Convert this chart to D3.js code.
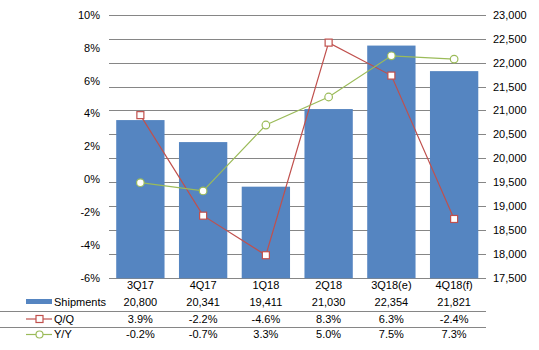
<!DOCTYPE html>
<html><head><meta charset="utf-8">
<script src="https://cdn.jsdelivr.net/npm/d3@7"></script>
<style>body{margin:0;background:#fff}svg{display:block;font-family:"Liberation Sans",Arial,sans-serif}</style>
</head><body><svg id="c" width="539" height="350"></svg>
<script>
const categories = ["3Q17","4Q17","1Q18","2Q18","3Q18(e)","4Q18(f)"];
const shipments = [20800,20341,19411,21030,22354,21821];
const qoq = [3.9,-2.2,-4.6,8.3,6.3,-2.4];
const yoy = [-0.2,-0.7,3.3,5.0,7.5,7.3];
const leftTicks = [10,8,6,4,2,0,-2,-4,-6];
const rightTicks = [23000,22500,22000,21500,21000,20500,20000,19500,19000,18500,18000,17500];
const shipLabels = ["20,800","20,341","19,411","21,030","22,354","21,821"];
const qoqLabels = ["3.9%","-2.2%","-4.6%","8.3%","6.3%","-2.4%"];
const yoyLabels = ["-0.2%","-0.7%","3.3%","5.0%","7.5%","7.3%"];

const blue="#5585C1", red="#C0504D", green="#9BBB59", grid="#868686";
const svg=d3.select("#c");
const x=d3.scaleBand().domain(categories).range([109,485.5]).paddingInner(0.23).paddingOuter(0.115);
const yL=d3.scaleLinear().domain([-6,10]).range([278.3,14.6]);
const yR=d3.scaleLinear().domain([17500,23000]).range([278.3,14.6]);
const fs=11;

// gridlines (right axis)
svg.append("g").selectAll("line").data(rightTicks).join("line")
  .attr("x1",109).attr("x2",486).attr("y1",d=>Math.round(yR(d))+0.5).attr("y2",d=>Math.round(yR(d))+0.5)
  .attr("stroke",grid).attr("stroke-width",1);

// left labels
svg.append("g").selectAll("text").data(leftTicks).join("text")
  .attr("x",100).attr("y",d=>yL(d)+4).attr("text-anchor","end").attr("font-size",fs).attr("fill","#000")
  .text(d=>d+"%");
// right labels
svg.append("g").selectAll("text").data(rightTicks).join("text")
  .attr("x",493).attr("y",d=>yR(d)+4).attr("text-anchor","start").attr("font-size",fs).attr("fill","#000")
  .text(d=>d3.format(",")(d));

// bars
svg.append("g").selectAll("rect").data(shipments).join("rect")
  .attr("x",(d,i)=>x(categories[i])).attr("width",x.bandwidth())
  .attr("y",d=>yR(d)).attr("height",d=>yR(17500)-yR(d)).attr("fill",blue);

const cx=i=>x(categories[i])+x.bandwidth()/2;
// Q/Q line
svg.append("path").datum(qoq).attr("fill","none").attr("stroke",red).attr("stroke-width",1.2)
  .attr("d",d3.line().x((d,i)=>cx(i)).y(d=>yL(d)));
svg.append("g").selectAll("rect").data(qoq).join("rect")
  .attr("x",(d,i)=>cx(i)-3.5).attr("y",d=>yL(d)-3.5).attr("width",7).attr("height",7)
  .attr("fill","#fff").attr("stroke",red).attr("stroke-width",1.2);
// Y/Y line
svg.append("path").datum(yoy).attr("fill","none").attr("stroke",green).attr("stroke-width",1.2)
  .attr("d",d3.line().x((d,i)=>cx(i)).y(d=>yL(d)));
svg.append("g").selectAll("circle").data(yoy).join("circle")
  .attr("cx",(d,i)=>cx(i)).attr("cy",d=>yL(d)).attr("r",3.8)
  .attr("fill","#fff").attr("stroke",green).attr("stroke-width",1.2);

// table
const t=svg.append("g").attr("font-size",fs).attr("fill","#000");
t.selectAll(".cat").data(categories).join("text").attr("class","cat")
  .attr("x",(d,i)=>cx(i)).attr("y",289).attr("text-anchor","middle").text(d=>d);
[[shipLabels,306],[qoqLabels,322.5],[yoyLabels,338]].forEach(([arr,yy])=>{
  t.append("g").selectAll("text").data(arr).join("text")
    .attr("x",(d,i)=>cx(i)).attr("y",yy).attr("text-anchor","middle").text(d=>d);
});
[311.5,327.5].forEach(yy=>svg.append("line").attr("x1",0).attr("x2",486).attr("y1",yy).attr("y2",yy)
  .attr("stroke",grid).attr("stroke-width",1));

// legend keys
svg.append("rect").attr("x",26).attr("y",299).attr("width",26).attr("height",5).attr("fill",blue);
t.append("text").attr("x",54).attr("y",306).text("Shipments");
svg.append("line").attr("x1",26).attr("x2",52).attr("y1",319).attr("y2",319).attr("stroke",red).attr("stroke-width",1.2);
svg.append("rect").attr("x",36).attr("y",315.5).attr("width",7).attr("height",7).attr("fill","#fff").attr("stroke",red).attr("stroke-width",1.2);
t.append("text").attr("x",54).attr("y",322.5).text("Q/Q");
svg.append("line").attr("x1",26).attr("x2",52).attr("y1",334.5).attr("y2",334.5).attr("stroke",green).attr("stroke-width",1.2);
svg.append("circle").attr("cx",39.5).attr("cy",334.5).attr("r",3.5).attr("fill","#fff").attr("stroke",green).attr("stroke-width",1.2);
t.append("text").attr("x",54).attr("y",338).text("Y/Y");
</script></body></html>
